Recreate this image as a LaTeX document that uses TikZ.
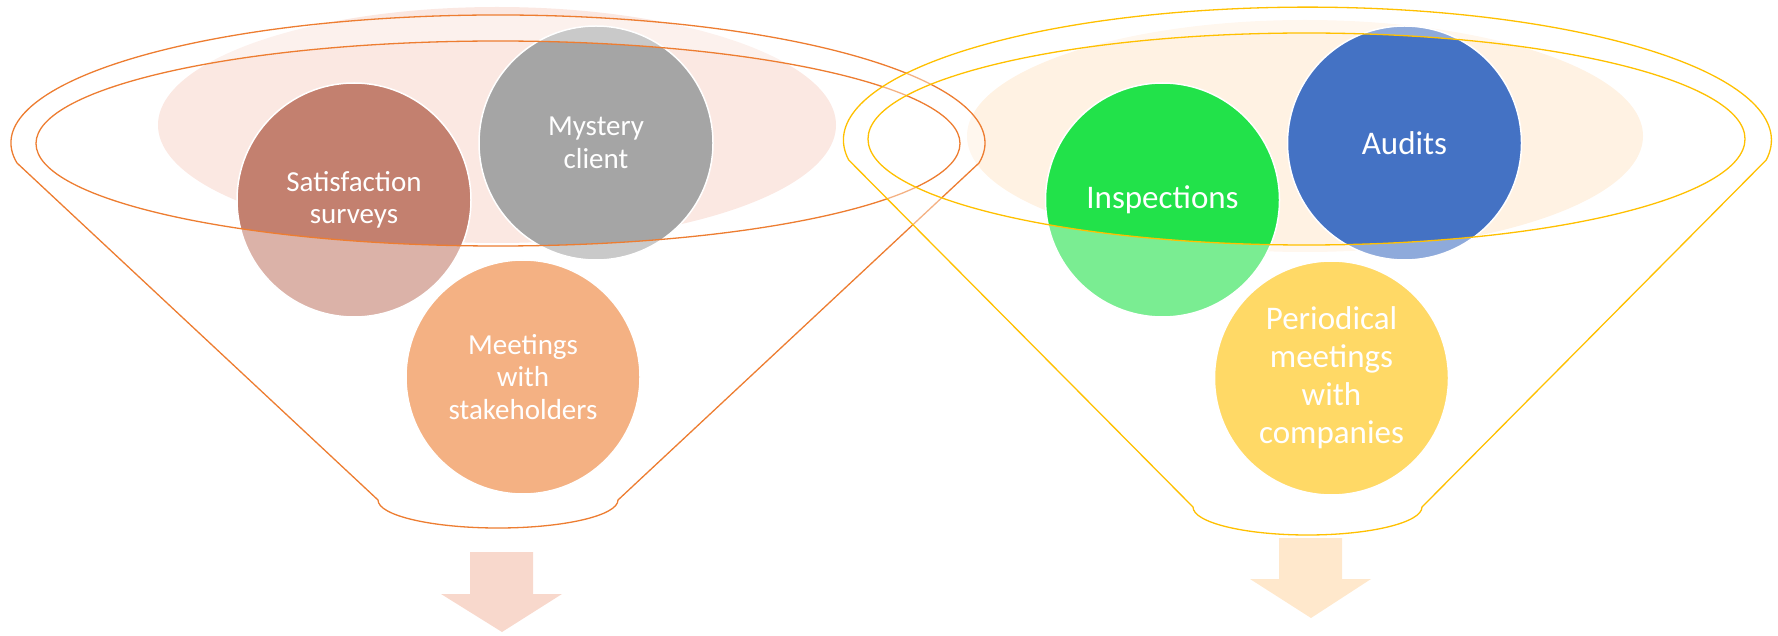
\documentclass[tikz,border=0pt]{standalone}
\usepackage{fontspec}
\setmainfont{Carlito}
\definecolor{rimOrange}{HTML}{ED7D31}
\definecolor{rimGold}{HTML}{FFC000}
\definecolor{bgPink}{HTML}{FBE8E2}
\definecolor{bgPeach}{HTML}{FFF2E3}
\definecolor{cSurvey}{HTML}{C3806F}
\definecolor{cMystery}{HTML}{A5A5A5}
\definecolor{cMeet}{HTML}{F4B183}
\definecolor{cInspect}{HTML}{22E24A}
\definecolor{cAudit}{HTML}{4472C4}
\definecolor{cPeriod}{HTML}{FFD966}
\definecolor{arrowPink}{HTML}{F8D8CC}
\definecolor{arrowPeach}{HTML}{FFE8CC}
\begin{document}
\begin{tikzpicture}[x=1pt,y=1pt,
  bubble/.style={circle, minimum size=234pt, inner sep=0pt, draw=white,
    line width=1.5pt, text=white, align=center},
  smalltext/.style={font=\fontsize{29}{32.5}\selectfont},
  bigtext/.style={font=\fontsize{33}{38}\selectfont},
  haze/.style={fill=white, fill opacity=0.4, even odd rule},
  rim/.style={line width=1.3pt}]
\useasboundingbox (0,0) rectangle (1778,-636);

% soft background ellipses behind each funnel
\fill[bgPink]  (497,-125) ellipse[x radius=339, y radius=118];
\fill[bgPeach] (1305,-136) ellipse[x radius=338, y radius=116];

% circles that sit inside the funnel mouths
\node[bubble, smalltext, fill=cSurvey]  (survey)  at (354,-200) {Satisfaction\\surveys};
\node[bubble, smalltext, fill=cMystery] (mystery) at (596,-143) {Mystery\\client};
\node[bubble, bigtext, fill=cInspect]   (inspect) at (1162.5,-200) {Inspections};
\node[bubble, bigtext, fill=cAudit]     (audit)   at (1404.5,-143) {Audits};

% left funnel: translucent body with an open mouth, then its outline
\fill[haze]
  (17,-163) arc[start angle=189, end angle=-9, x radius=487, y radius=128]
  -- (618,-500) arc[start angle=0, end angle=-180, x radius=120, y radius=28]
  -- cycle
  (498,-143.5) ellipse[x radius=462, y radius=102.5];
\draw[rim, draw=rimOrange]
  (17,-163) arc[start angle=189, end angle=-9, x radius=487, y radius=128]
  -- (618,-500) arc[start angle=0, end angle=-180, x radius=120, y radius=28]
  -- cycle;
\draw[rim, draw=rimOrange] (498,-143.5) ellipse[x radius=462, y radius=102.5];

% right funnel
\fill[haze]
  (848.7,-160) arc[start angle=188.6, end angle=-8.6, x radius=464, y radius=133]
  -- (1422,-507) arc[start angle=0, end angle=-180, x radius=114.5, y radius=28]
  -- cycle
  (1306.5,-139) ellipse[x radius=438.5, y radius=106];
\draw[rim, draw=rimGold]
  (848.7,-160) arc[start angle=188.6, end angle=-8.6, x radius=464, y radius=133]
  -- (1422,-507) arc[start angle=0, end angle=-180, x radius=114.5, y radius=28]
  -- cycle;
\draw[rim, draw=rimGold] (1306.5,-139) ellipse[x radius=438.5, y radius=106];

% circles below the mouths, in front of the funnels
\node[bubble, smalltext, fill=cMeet]  (meet)   at (523,-377) {Meetings\\with\\stakeholders};
\node[bubble, bigtext, fill=cPeriod]  (period) at (1331.5,-378) {Periodical\\meetings\\with\\companies};

% output arrows under each funnel
\fill[arrowPink]  (470,-552) -- (533,-552) -- (533,-594) -- (562,-594)
  -- (502,-632) -- (441,-594) -- (470,-594) -- cycle;
\fill[arrowPeach] (1279,-538) -- (1342,-538) -- (1342,-579) -- (1371,-579)
  -- (1311,-618) -- (1250,-579) -- (1279,-579) -- cycle;
\end{tikzpicture}
\end{document}
